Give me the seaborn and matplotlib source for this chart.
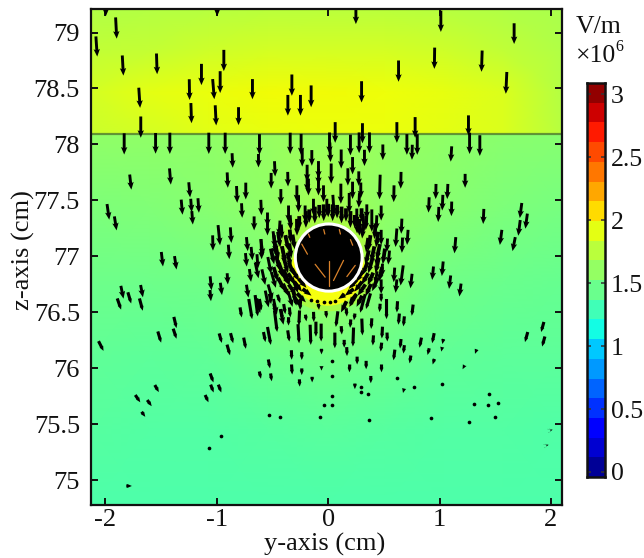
import numpy as np
import matplotlib
matplotlib.use("Agg")
import matplotlib.pyplot as plt
from matplotlib.patches import Circle
import seaborn as sns

sns.set_theme(style="ticks")
plt.rcParams["font.family"] = ["Liberation Serif", "DejaVu Serif"]

# field magnitude (x10^6 V/m), rows from top to bottom, y = -2.13 ... 2.10
upper_field = [
    [1.74, 1.75, 1.76, 1.78, 1.78, 1.78, 1.76, 1.74, 1.72],
    [1.80, 1.82, 1.85, 1.87, 1.87, 1.87, 1.85, 1.80, 1.74],
    [1.88, 1.93, 1.96, 1.99, 1.99, 1.97, 1.95, 1.90, 1.75],
    [1.84, 1.88, 1.92, 1.95, 1.96, 1.96, 1.94, 1.90, 1.77],
]
lower_field = [
    [1.62, 1.62, 1.62, 1.64, 1.66, 1.64, 1.62, 1.60, 1.58],
    [1.55, 1.56, 1.58, 1.62, 1.70, 1.62, 1.58, 1.54, 1.52],
    [1.48, 1.48, 1.50, 1.55, 1.68, 1.56, 1.50, 1.47, 1.46],
    [1.44, 1.43, 1.44, 1.47, 1.50, 1.47, 1.44, 1.43, 1.42],
    [1.40, 1.39, 1.39, 1.40, 1.41, 1.40, 1.39, 1.39, 1.38],
    [1.36, 1.36, 1.36, 1.36, 1.36, 1.36, 1.36, 1.36, 1.36],
]
cbar_levels = [3.05, 2.89, 2.73, 2.57, 2.42, 2.26, 2.10, 1.94, 1.78, 1.63,
               1.47, 1.31, 1.15, 0.99, 0.84, 0.68, 0.52, 0.36, 0.20, 0.05]
cbar_ticks = [0, 0.5, 1, 1.5, 2, 2.5, 3]
cbar_labels = ["0", "0.5", "1", "1.5", "2", "2.5", "3"]
y_ticks = [-2, -1, 0, 1, 2]
y_labels = ["-2", "-1", "0", "1", "2"]
z_ticks = [75, 75.5, 76, 76.5, 77, 77.5, 78, 78.5, 79]
z_labels = ["75", "75.5", "76", "76.5", "77", "77.5", "78", "78.5", "79"]

# arrows: (y centre, z centre, dy, dz) in cm
upper_arrows = [
    (-2.08, 78.875, .012, -.18), (-1.904, 79.04, .01, -.19), (-1.844, 78.705, .01, -.18),
    (-1.539, 78.72, .006, -.185), (-1.695, 78.417, .012, -.18), (-1.246, 78.49, .003, -.185),
    (-1.138, 78.625, 0, -.19), (-.937, 78.75, 0, -.19), (-.97, 78.557, 0, -.195),
    (-1.03, 78.494, .015, -.18), (-1.23, 78.28, .006, -.18), (-1.01, 78.26, .009, -.18),
    (-.805, 78.253, 0, -.16), (-.68, 78.494, 0, -.18), (-.362, 78.35, 0, -.185),
    (-.249, 78.35, 0, -.185), (-.326, 78.53, 0, -.19), (-.153, 78.43, 0, -.195),
    (-1.683, 78.155, 0, -.19), (-1.997, 79.24, 0, -.19), (-.997, 79.24, 0, -.19),
    (.249, 79.17, 0, -.19), (1.012, 79.10, 0, -.19), (1.67, 78.99, 0, -.185),
    (.955, 78.77, -.003, -.19), (1.38, 78.744, -.006, -.19), (.632, 78.655, 0, -.19),
    (1.60, 78.55, -.009, -.195), (.30, 78.47, 0, -.19), (.063, 78.107, 0, -.185),
    (.308, 78.10, 0, -.18), (.617, 78.107, 0, -.185), (.781, 78.152, 0, -.185),
    (1.26, 78.17, 0, -.18),
]
layer_arrows = [
    (-1.832, 78.005, 0, -.19), (-1.55, 78.01, 0, -.185), (-1.422, 78.01, 0, -.19),
    (-1.072, 78.01, 0, -.19), (-.925, 78.01, 0, -.19), (-.617, 78.0, 0, -.185),
    (-.341, 78.01, 0, -.19), (-.243, 78.0, 0, -.19), (-.86, 77.857, .006, -.13),
    (-.626, 77.855, 0, -.12), (-.233, 77.88, 0, -.155), (-.147, 77.88, 0, -.14),
    (.012, 78.012, 0, -.19), (.2, 77.995, 0, -.185), (.278, 78.015, 0, -.185),
    (.371, 78.015, 0, -.185), (.707, 78.0, 0, -.185), (.8, 78.0, 0, -.185),
    (1.27, 78.01, 0, -.19), (1.362, 77.99, 0, -.185), (.491, 77.93, 0, -.14),
    (.754, 77.93, -.003, -.135), (1.105, 77.915, -.009, -.137), (.326, 77.88, 0, -.145),
    (.018, 77.93, .006, -.175), (.117, 77.87, 0, -.17),
]
mid_left_arrows = [
    (-1.775, 77.664, .015, -.135), (-1.419, 77.714, .012, -.145), (-.479, 77.782, .006, -.137),
    (-.904, 77.682, .006, -.137), (-.512, 77.676, 0, -.14), (-.362, 77.69, .003, -.13),
    (-.189, 77.744, 0, -.15), (-.189, 77.655, 0, -.15), (-.087, 77.774, 0, -.155),
    (-.82, 77.554, .006, -.15), (-.74, 77.584, 0, -.15), (-.425, 77.533, 0, -.137),
    (-.281, 77.56, 0, -.15), (-1.246, 77.595, .012, -.135), (-1.23, 77.455, .009, -.12),
    (-1.22, 77.345, .009, -.12), (-1.314, 77.44, .012, -.135), (-1.165, 77.455, .009, -.13),
    (-1.976, 77.398, .02, -.14), (-1.91, 77.295, .02, -.125), (-.775, 77.41, .006, -.13),
    (-.602, 77.437, .006, -.137), (-.665, 77.295, 0, -.125), (-.545, 77.33, 0, -.125),
    (-.545, 77.25, 0, -.125), (-.98, 77.19, .018, -.18), (-1.036, 77.12, .003, -.137),
    (-.874, 77.19, .009, -.14), (-.892, 77.04, .009, -.13), (-.728, 77.11, .012, -.125),
    (-.686, 77.025, .012, -.12), (-.737, 76.97, .012, -.12), (-.6, 77.065, .006, -.18),
    (-.635, 76.955, .009, -.13), (-.482, 77.107, .018, -.19), (-.437, 77.25, -.009, -.14),
    (-1.491, 76.975, .015, -.13), (-1.371, 76.943, .018, -.12), (-.904, 76.80, .006, -.1),
    (-1.054, 76.76, .012, -.125), (-.961, 76.71, .015, -.11), (-1.057, 76.65, .009, -.1),
    (-1.85, 76.68, .024, -.115), (-1.674, 76.69, .021, -.11), (-.70, 76.83, .015, -.115),
    (-.725, 76.69, .018, -.115),
    (-.64, 76.875, .03, -.14), (-.58, 76.815, .03, -.14), (-.527, 76.92, .03, -.15),
    (-.49, 76.79, .04, -.14), (-.52, 76.68, .04, -.14), (-.626, 76.56, .03, -.13),
    (-.55, 76.62, .03, -.15), (-.476, 76.55, .03, -.14), (-.416, 76.46, .03, -.14),
    (-.34, 76.62, .04, -.14), (-.296, 76.74, .05, -.13), (-.37, 76.815, .05, -.14),
    (-.43, 76.89, .04, -.15), (-.4, 77.01, .03, -.16), (-.476, 77.11, .02, -.16),
    (-.595, 77.08, .02, -.15), (-.485, 77.15, .02, -.15), (-.356, 77.38, 0, -.15),
    (-.266, 77.47, 0, -.15), (-.177, 77.62, 0, -.15), (-.087, 77.62, 0, -.15),
    (-.087, 77.71, 0, -.14), (-.132, 77.44, 0, -.15), (-.207, 77.38, 0, -.15),
    (-.012, 77.44, 0, -.15), (-.042, 77.56, 0, -.15),
]
mid_right_arrows = [
    (.219, 77.81, 0, -.155), (.027, 77.74, 0, -.18), (.177, 77.71, 0, -.155),
    (.275, 77.695, 0, -.13), (.114, 77.56, 0, -.18), (.219, 77.59, 0, -.155),
    (.293, 77.59, 0, -.14), (.278, 77.5, -.006, -.13), (.048, 77.46, .012, -.18),
    (.189, 77.477, 0, -.18), (.464, 77.62, -.006, -.22), (.653, 77.68, -.003, -.15),
    (.59, 77.56, -.003, -.15), (1.23, 77.675, 0, -.125), (.967, 77.58, -.003, -.135),
    (1.072, 77.58, -.006, -.135), (1.027, 77.48, -.006, -.14), (1.108, 77.425, -.003, -.13),
    (.904, 77.46, -.006, -.137), (.991, 77.375, -.006, -.135), (1.395, 77.357, -.006, -.135),
    (1.73, 77.41, -.018, -.135), (1.78, 77.315, -.018, -.135), (1.716, 77.255, -.018, -.14),
    (1.551, 77.17, -.018, -.135), (1.668, 77.11, -.025, -.125), (1.14, 77.1, -.012, -.145),
    (.476, 77.387, 0, -.135), (.659, 77.27, -.006, -.135), (.611, 77.167, -.012, -.165),
    (.713, 77.17, -.009, -.135), (.665, 77.1, -.006, -.137), (.545, 76.99, -.012, -.125),
    (1.027, 76.89, -.012, -.13), (.94, 76.85, -.012, -.12), (.662, 76.83, -.024, -.18),
    (.593, 76.835, -.009, -.13), (.746, 76.78, -.015, -.13), (1.093, 76.77, -.015, -.12),
    (.611, 76.735, -.012, -.12), (1.186, 76.7, -.015, -.115), (.431, 76.81, -.018, -.115),
    (.476, 76.73, 0, -.13), (.485, 76.875, -.006, -.12), (.53, 77.1, -.006, -.12),
    (.476, 77.17, 0, -.135), (.434, 77.3, -.006, -.135), (.392, 77.32, 0, -.2),
    (.347, 77.4, 0, -.13), (.317, 77.305, .012, -.15), (.257, 77.36, 0, -.135),
    (.26, 77.27, 0, -.13), (.44, 76.97, -.015, -.12),
]
ring_arrows = [
    (-.28, 77.26, 0, -.15), (-.2, 77.33, 0, -.15), (-.12, 77.37, 0, -.15), (-.04, 77.39, 0, -.15),
    (.04, 77.39, 0, -.15), (.12, 77.37, 0, -.15), (.2, 77.33, 0, -.15), (.28, 77.26, 0, -.15),
    (-.37, 77.12, .03, -.14), (-.4, 77.02, .03, -.14), (-.38, 76.92, .04, -.14),
    (-.44, 77.15, .02, -.14), (-.46, 77.04, .03, -.14), (-.45, 76.94, .04, -.14),
    (-.33, 76.8, .06, -.1), (-.27, 76.73, .07, -.09), (-.19, 76.68, .08, -.06),
    (-.38, 76.8, .06, -.11), (-.32, 76.7, .07, -.1), (-.24, 76.63, .08, -.08), (-.42, 76.88, .05, -.13),
    (.37, 77.12, -.02, -.14), (.4, 77.02, -.03, -.14), (.38, 76.92, -.04, -.14),
    (.44, 77.15, -.02, -.14), (.45, 77.04, -.03, -.14), (.44, 76.92, -.03, -.14),
    (.33, 76.8, -.06, -.1), (.27, 76.73, -.07, -.09), (.19, 76.68, -.08, -.06),
    (.38, 76.8, -.05, -.11), (.3, 76.7, -.07, -.1), (.22, 76.62, -.07, -.09), (.12, 76.64, -.06, -.04),
    (-.34, 77.18, .01, -.12), (-.31, 77.13, .02, -.13), (-.34, 77.05, .02, -.13), (-.35, 76.97, .03, -.13),
    (-.33, 76.89, .05, -.12), (-.29, 76.83, .06, -.1), (-.23, 76.76, .07, -.08), (-.26, 77.3, 0, -.12),
    (-.17, 77.36, 0, -.12), (-.08, 77.4, 0, -.12), (0, 77.41, 0, -.12), (.08, 77.4, 0, -.12),
    (.16, 77.37, 0, -.12), (.24, 77.31, 0, -.12), (.31, 77.22, -.01, -.12), (.35, 77.1, -.02, -.13),
    (.35, 76.99, -.03, -.13), (.33, 76.89, -.05, -.12), (.28, 76.82, -.06, -.1), (.22, 76.75, -.07, -.08),
    (-.42, 76.75, .06, -.12), (.42, 76.75, -.05, -.12), (-.28, 76.6, .06, -.1), (.28, 76.6, -.05, -.1),
    (-.34, 77.3, .01, -.13), (-.42, 77.22, .01, -.13), (-.5, 77.0, .03, -.14), (-.47, 76.84, .04, -.13),
    (-.38, 76.7, .05, -.11), (.34, 77.3, -.005, -.13), (.42, 77.22, -.01, -.13), (.5, 77.0, -.02, -.14),
    (.47, 76.84, -.03, -.13), (.36, 76.7, -.05, -.11), (.14, 76.55, -.05, -.1), (.3, 77.37, 0, -.12),
]
low_left_arrows = [
    (-1.877, 76.575, .035, -.1), (-1.784, 76.63, .03, -.1), (-1.68, 76.57, .03, -.11),
    (-1.374, 76.41, .024, -.1), (-1.377, 76.31, .03, -.09), (-1.515, 76.28, .03, -.1),
    (-2.04, 76.2, .045, -.087), (-.967, 76.27, .024, -.085), (-.865, 76.27, .024, -.09),
    (-.749, 76.225, .02, -.1), (-.895, 76.165, .027, -.095), (-.784, 76.5, .015, -.09),
    (-.698, 76.53, .03, -.18), (-.644, 76.56, .024, -.19), (-.608, 76.57, .02, -.1),
    (-.572, 76.28, .018, -.09), (-.53, 76.29, .03, -.16), (-.356, 76.29, .015, -.1),
    (-.47, 76.42, .024, -.19), (-.479, 76.53, .02, -.1), (-.52, 76.62, .015, -.09),
    (-.416, 76.48, .015, -.1), (-.443, 76.62, .024, -.075), (-.392, 76.53, .015, -.09),
    (-.344, 76.5, .009, -.09), (-.356, 76.42, 0, -.075), (-.3, 76.62, .03, -.12),
    (-.266, 76.31, .01, -.17), (-.26, 76.45, -.006, -.135), (-.25, 76.57, -.006, -.1),
    (-.2, 76.45, .009, -.06), (-.13, 76.46, .003, -.09), (-.11, 76.35, 0, -.135),
    (-.159, 76.3, .006, -.18), (-.063, 76.32, 0, -.16), (-.017, 76.48, .006, -.065),
    (-.085, 76.55, .006, -.055), (-.329, 76.12, .003, -.085), (-.237, 76.11, 0, -.07),
    (-.06, 76.15, 0, -.05), (-.06, 76.0, 0, -.04), (-.53, 76.04, .015, -.08),
    (-.326, 75.99, .006, -.09), (-.237, 75.97, 0, -.06), (-.611, 75.94, .015, -.065),
    (-.512, 75.92, .01, -.07), (-.257, 75.87, .003, -.065), (-.144, 75.9, 0, -.05),
    (-1.045, 75.915, .03, -.08), (-1.042, 75.82, .027, -.07), (-.973, 75.82, .027, -.07),
    (-1.09, 75.73, .03, -.065), (-1.539, 75.82, .036, -.063), (-1.71, 75.73, .045, -.065),
    (-1.605, 75.69, .04, -.055), (-1.659, 75.59, .033, -.045),
]
low_right_arrows = [
    (.757, 76.52, -.012, -.1), (.62, 76.55, -.006, -.1), (.464, 76.54, -.006, -.075),
    (.524, 76.53, 0, -.18), (.635, 76.44, -.009, -.1), (.68, 76.42, -.009, -.09),
    (.389, 76.4, -.006, -.095), (.53, 76.28, .003, -.08), (.485, 76.32, -.006, -.105),
    (.404, 76.25, -.006, -.09), (.476, 76.19, -.009, -.08), (.65, 76.22, -.009, -.085),
    (.68, 76.17, -.009, -.075), (.593, 76.12, -.012, -.095), (.737, 76.08, -.012, -.07),
    (.829, 76.23, -.018, -.09), (.943, 76.27, -.018, -.09), (.9, 76.15, -.015, -.06),
    (1.03, 76.24, -.01, -.045), (1.02, 76.17, -.009, -.04), (.946, 76.06, -.015, -.05),
    (1.326, 76.15, -.015, -.04), (1.216, 76.01, -.018, -.035), (.24, 75.84, 0, -.05),
    (.383, 75.9, 0, -.065), (.479, 76.0, 0, -.07), (.341, 76.03, 0, -.075),
    (.26, 76.07, 0, -.07), (.192, 76.0, -.003, -.07), (.168, 76.15, .003, -.08),
    (.144, 76.22, 0, -.07), (.06, 76.25, 0, -.14), (.12, 76.34, .006, -.075),
    (.225, 76.28, -.006, -.17), (.305, 76.37, .006, -.15), (.2, 76.4, -.006, -.075),
    (.236, 76.46, -.009, -.06), (.078, 76.44, -.018, -.14), (.165, 76.5, .006, -.075),
    (.31, 76.58, -.045, -.165), (.36, 76.6, -.04, -.14), (.22, 76.6, -.06, -.1),
    (.476, 76.63, 0, -.075), (.677, 75.8, -.01, -.04),
    (1.78, 76.28, -.025, -.09), (1.925, 76.37, -.025, -.09), (1.934, 76.24, -.025, -.09),
]
dot_arrows = [
    (-.527, 75.58), (-.431, 75.565), (-.075, 75.565), (-.033, 75.675), (-.958, 75.4), (-1.072, 75.29),
    (1.02, 75.86), (1.44, 75.77), (1.314, 75.68), (1.434, 75.67), (1.527, 75.69), (1.494, 75.57),
    (1.263, 75.52), (.922, 75.56), (.365, 75.54), (.769, 75.83), (.614, 75.91), (.362, 75.77),
    (.293, 75.83), (.293, 75.79), (.033, 76.07), (.033, 75.93), (.033, 75.75), (.033, 75.67),
    (-.1, 76.6), (-.04, 76.59), (.02, 76.59), (.06, 76.6), (-.15, 76.61),
]
side_dashes = [(-1.788, 74.95, .05, 0), (2.006, 75.45, .02, .005), (1.97, 75.315, .02, .005)]

# bright tracks on the sphere (y0, z0, y1, z1)
sphere_tracks = [
    (.009, 76.74, .009, 76.96), (-.027, 76.815, -.117, 76.93), (.048, 76.785, .138, 76.965),
    (-.237, 77.11, -.186, 77.02), (.243, 76.92, .168, 76.82), (-.177, 77.2, -.165, 77.17),
    (-.04, 77.24, -.03, 77.2), (.1, 77.24, .11, 77.2), (.2, 77.15, .22, 77.1),
]

W, H = 644, 558
def box(l, t, r, b):
    return [l / W, 1 - b / H, (r - l) / W, (b - t) / H]

fig = plt.figure(figsize=(W / 100, H / 100), dpi=100)
L, R, T, B = 91, 562, 9, 505
SPLIT = 134
VMIN, VMAX = -0.02, 3.1

ax_up = fig.add_axes(box(L, T, R, SPLIT))
sns.heatmap(upper_field, ax=ax_up, cmap="jet", vmin=VMIN, vmax=VMAX, cbar=False, shading="gouraud")
ax_up.set_xlim(0, 8); ax_up.set_ylim(3, 0); ax_up.axis("off")
ax_lo = fig.add_axes(box(L, SPLIT, R, B))
sns.heatmap(lower_field, ax=ax_lo, cmap="jet", vmin=VMIN, vmax=VMAX, cbar=False, shading="gouraud")
ax_lo.set_xlim(0, 8); ax_lo.set_ylim(5, 0); ax_lo.axis("off")

ax = fig.add_axes(box(L, T, R, B), facecolor="none")
ax.set_xlim(-2.13, 2.10)
ax.set_ylim(74.78, 79.21)
ax.add_patch(Circle((0, 76.98), .47, color="#a8fb45", lw=0, zorder=1))
ax.add_patch(Circle((0, 76.89), .33, color="#f6ff10", lw=0, zorder=1))
ax.axhline(78.09, color="#4f7a2e", lw=1.6, alpha=.8, zorder=2)

head = np.array(upper_arrows + layer_arrows + mid_left_arrows + mid_right_arrows)
ax.quiver(head[:, 0], head[:, 1], head[:, 2], head[:, 3], angles="xy",
          scale_units="xy", scale=1, pivot="mid", units="dots", width=2.9, headwidth=2.2,
          headlength=2.6, headaxislength=2.3, minshaft=.6, minlength=.5, color="black", zorder=3)
ring = np.array(ring_arrows)
ax.quiver(ring[:, 0], ring[:, 1], ring[:, 2], ring[:, 3], angles="xy",
          scale_units="xy", scale=1, pivot="mid", units="dots", width=3.8, headwidth=1.6,
          headlength=2, headaxislength=1.8, minshaft=.6, minlength=.5, color="black", zorder=3)
low = np.array(low_left_arrows + low_right_arrows + side_dashes)
ax.quiver(low[:, 0], low[:, 1], low[:, 2], low[:, 3], angles="xy",
          scale_units="xy", scale=1, pivot="mid", units="dots", width=3.1, headwidth=1.3,
          headlength=1.5, headaxislength=1.5, minshaft=.5, minlength=.5, color="black", zorder=3)
dots = np.array(dot_arrows)
sns.scatterplot(x=dots[:, 0], y=dots[:, 1], ax=ax, s=7, color="black", linewidth=0, zorder=3)

ax.add_patch(Circle((.005, 76.99), .3, facecolor="black", edgecolor="white", lw=2.2, zorder=4))
for y0, z0, y1, z1 in sphere_tracks:
    ax.plot([y0, y1], [z0, z1], color="#d9822b", lw=.9, zorder=5)

ax.set_xticks(y_ticks, y_labels)
ax.set_yticks(z_ticks, z_labels)
ax.tick_params(direction="in", length=5, width=1.4, top=True, right=True, colors="#111111",
               labelsize=19)
ax.tick_params(axis="x", pad=3)
ax.tick_params(axis="y", pad=8)
for s in ax.spines.values():
    s.set_visible(True); s.set_linewidth(1.6); s.set_color("#111111"); s.set_zorder(10)
fig.text(325 / W, 1 - 544 / H, "y-axis (cm)", ha="center", va="center", fontsize=19, color="#111111")
fig.text(23 / W, 1 - 250 / H, "z-axis (cm)", ha="center", va="center", rotation=90, fontsize=19, color="#111111")

cb_box = box(587, 83, 605, 477)
cax = fig.add_axes(cb_box)
sns.heatmap(np.array(cbar_levels)[:, None], ax=cax, cmap="jet", vmin=VMIN, vmax=VMAX, cbar=False,
            xticklabels=False, yticklabels=False)
cov = fig.add_axes(cb_box, facecolor="none")
cov.set_xlim(0, 1)
cov.set_ylim(-0.04, 3.09)
cov.set_xticks([])
cov.yaxis.tick_right()
cov.set_yticks(cbar_ticks, cbar_labels)
cov.tick_params(axis="y", direction="in", length=3, width=1.1, left=True, right=True,
                color="#333333", labelsize=18.5, pad=4, labelcolor="#111111")
for s in cov.spines.values():
    s.set_visible(True); s.set_linewidth(1.8); s.set_color("#111111")

fig.text(599 / W, 1 - 27 / H, "V/m", ha="center", va="center", fontsize=18.5, color="#111111")
fig.text(576 / W, 1 - 56 / H, "×10", ha="left", va="center", fontsize=18.5, color="#111111")
fig.text(615 / W, 1 - 47 / H, "6", ha="left", va="center", fontsize=11.5, color="#111111")

fig.savefig("out.png", dpi=100)
